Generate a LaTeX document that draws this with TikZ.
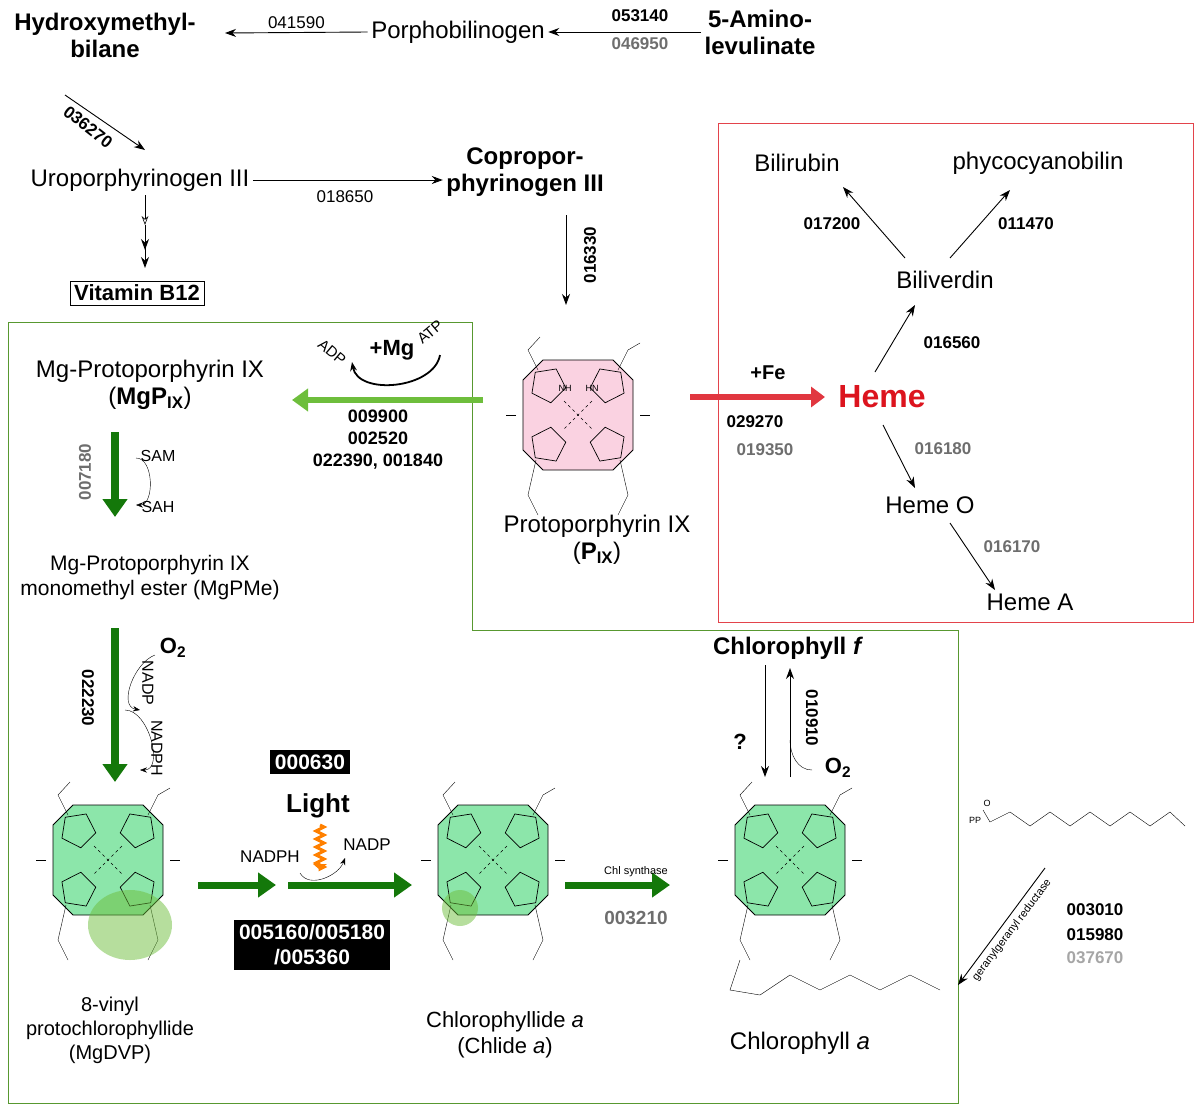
\documentclass[tikz,border=0pt]{standalone}
\usepackage{fontspec}
\setmainfont{Liberation Sans}
\usetikzlibrary{arrows.meta,shapes.geometric,decorations.pathmorphing}
\definecolor{dg}{RGB}{20,120,10}
\definecolor{lg}{RGB}{110,190,60}
\definecolor{mol}{RGB}{140,230,170}
\definecolor{pinkm}{RGB}{250,210,225}
\definecolor{hred}{RGB}{220,20,30}
\definecolor{gr}{RGB}{110,110,110}
\tikzset{
 big/.style={font=\fontsize{24}{27}\selectfont,align=center},
 bigb/.style={font=\fontsize{24}{27}\selectfont\bfseries,align=center},
 num/.style={font=\fontsize{17}{21}\selectfont\bfseries,align=center},
 gnum/.style={num,text=gr},
 arr/.style={-{Stealth[length=11pt,width=8pt]},line width=0.9pt},
 garr/.style={-{Triangle[length=18pt,width=24pt]},line width=8pt,draw=dg},
 blk/.style={fill=black,text=white,font=\fontsize{21}{25}\selectfont\bfseries,align=center,inner sep=5pt},
 pent/.style={regular polygon,regular polygon sides=5,minimum size=36pt,draw,inner sep=0pt,line width=0.7pt},
}
\newcommand{\porph}[3]{%
 \begin{scope}[shift={#1}]
  \draw[line width=0.8pt,fill=#2] (-55,-35)--(-35,-55)--(35,-55)--(55,-35)--(55,35)--(35,55)--(-35,55)--(-55,35)--cycle;
  \node[pent,fill=#2,rotate=45] (#3a) at (-30,-30) {};
  \node[pent,fill=#2,rotate=-45] (#3b) at (30,-30) {};
  \node[pent,fill=#2,rotate=-135] (#3c) at (30,30) {};
  \node[pent,fill=#2,rotate=135] (#3d) at (-30,30) {};
  \draw[dashed] (-14,-14)--(14,14) (14,-14)--(-14,14);
  \draw (-40,-45)--(-50,-65)--(-38,-78) (40,-45)--(50,-65)--(62,-72);
  \draw (-62,0)--(-72,0) (62,0)--(72,0);
  \draw (-42,45)--(-50,80)--(-40,100) (42,45)--(50,80)--(40,100);
 \end{scope}}
\begin{document}
\begin{tikzpicture}[x=1pt,y=-1pt]
\useasboundingbox (0,0) rectangle (1200,1106);
% boxes
\draw[lg!80!black,line width=0.8pt] (8,322)--(472,322)--(472,630)--(958,630)--(958,1103)--(8,1103)--cycle;
\draw[hred!80,line width=0.8pt] (718,123) rectangle (1193,622);
% top
\node[bigb] (hmb) at (105,35) {Hydroxymethyl-\\bilane};
\node[big] (pbg) at (458,32) {Porphobilinogen};
\node[bigb] (ala) at (760,32) {5-Amino-\\levulinate};
\draw[arr] (pbg.west)--(225,33) node[midway,above,font=\fontsize{17}{21}\selectfont] {041590};
\draw[arr] (ala.west)--(pbg.east);
\node[num] at (640,16) {053140};
\node[gnum] at (640,44) {046950};
\draw[arr] (65,95)--(145,150);
\node[num,rotate=-38] at (88,127) {036270};
\node[big] (uro) at (140,180) {Uroporphyrinogen III};
\node[bigb] (copro) at (525,172) {Copropor-\\phyrinogen III};
\draw[arr] (uro.east)--(copro.west|-uro.east);
\node[font=\fontsize{17}{21}\selectfont] at (345,197) {018650};
\draw[arr] (566,215)--(566,305);
\node[num,rotate=90] at (590,255) {016330};
\draw[-{Stealth[open,length=9pt]},line width=0.6pt] (145,195)--(145,225);
\draw[arr] (145,225)--(145,268);
\draw[arr] (145,235)--(145,250);
\node[draw,font=\fontsize{22}{25}\selectfont\bfseries,inner sep=4pt] (b12) at (137,293) {Vitamin B12};
% proto
\porph{(578,415)}{pinkm}{pp}
\node[font=\fontsize{9}{10}\selectfont] at (565,388) {NH};
\node[font=\fontsize{9}{10}\selectfont] at (592,388) {HN};
\node[big] (proto) at (597,540) {Protoporphyrin IX\\(\textbf{P\textsubscript{IX}})};
\draw[-{Triangle[length=16pt,width=22pt]},line width=6pt,draw=lg] (483,400)--(292,400);
\node[num,font=\fontsize{18}{22}\selectfont\bfseries] at (378,440) {009900\\002520\\022390, 001840};
\draw[-{Stealth[length=9pt]},line width=1.8pt] (440,355) to[out=-100,in=-80] (352,362);
\node[font=\fontsize{22}{25}\selectfont\bfseries] at (392,350) {+Mg};
\node[font=\fontsize{15}{18}\selectfont,rotate=-40] at (332,352) {ADP};
\node[font=\fontsize{15}{18}\selectfont,rotate=40] at (430,332) {ATP};
\node[big] (mgp) at (150,385) {Mg-Protoporphyrin IX\\(\textbf{MgP\textsubscript{IX}})};
\draw[garr] (115,432)--(115,517);
\node[gnum,rotate=90] at (85,472) {007180};
\draw[-{Stealth[length=7pt]}] (136,458) to[out=0,in=0] (136,505);
\node[font=\fontsize{16}{19}\selectfont] at (158,456) {SAM};
\node[font=\fontsize{16}{19}\selectfont] at (158,507) {SAH};
\node[big,font=\fontsize{21}{25}\selectfont] (mgpme) at (150,578) {Mg-Protoporphyrin IX\\monomethyl ester (MgPMe)};
\draw[garr] (115,628)--(115,782);
\node[num,rotate=-90] at (88,698) {022230};
\node[font=\fontsize{22}{25}\selectfont\bfseries] at (173,648) {O\textsubscript{2}};
\draw[-{Stealth[length=7pt]}] (155,655) to[out=200,in=170] (140,710);
\draw[-{Stealth[length=7pt]}] (125,710) to[out=0,in=0] (140,770);
\node[font=\fontsize{16}{19}\selectfont,rotate=-90] at (148,683) {NADP};
\node[font=\fontsize{16}{19}\selectfont,rotate=-90] at (157,748) {NADPH};
% MgDVP
\porph{(108,860)}{mol}{m1}
\fill[lg,opacity=0.5] (130,925) ellipse (42 and 35);
\node[font=\fontsize{20}{24}\selectfont,align=center] at (110,1030) {8-vinyl\\protochlorophyllide\\(MgDVP)};
\draw[garr,line width=7pt] (198,885)--(276,885);
\draw[garr,line width=7pt] (288,885)--(412,885);
\node[font=\fontsize{17}{20}\selectfont] at (270,857) {NADPH};
\node[font=\fontsize{17}{20}\selectfont] at (367,845) {NADP};
\draw[-{Stealth[length=7pt]}] (300,873) to[out=-60,in=-110] (345,858);
\node[blk] (b1) at (310,762) {000630};
\node[font=\fontsize{26}{30}\selectfont\bfseries] at (318,806) {Light};
\draw[orange,line width=3pt,decorate,decoration={zigzag,amplitude=4pt,segment length=8pt},-{Triangle[length=6pt]}] (320,825)--(320,870);
\node[blk] (b2) at (312,945) {005160/005180\\/005360};
% chlide
\porph{(493,860)}{mol}{m2}
\fill[lg,opacity=0.5] (460,908) circle (18);
\node[font=\fontsize{22}{26}\selectfont,align=center] at (505,1035) {Chlorophyllide \textit{a}\\(Chlide \textit{a})};
\draw[garr,line width=7pt] (565,885)--(670,885);
\node[font=\fontsize{11}{13}\selectfont] at (636,872) {Chl synthase};
\node[gnum,font=\fontsize{19}{22}\selectfont\bfseries] at (636,918) {003210};
% chl a
\porph{(790,860)}{mol}{m3}
\draw (740,960)--(730,990)--(760,995)--(790,975)--(820,990)--(850,975)--(880,990)--(910,975)--(940,990);
\node[font=\fontsize{24}{28}\selectfont] at (800,1043) {Chlorophyll \textit{a}};
\node[font=\fontsize{24}{28}\selectfont\bfseries] (chlf) at (788,648) {Chlorophyll \textit{f}};
\draw[arr] (765,665)--(765,777);
\draw[arr] (790,777)--(790,668);
\node[font=\fontsize{22}{25}\selectfont\bfseries] at (740,742) {?};
\node[num,rotate=-90] at (812,718) {010910};
\draw (790,740) to[out=-90,in=180] (812,770);
\node[font=\fontsize{22}{25}\selectfont\bfseries] at (838,768) {O\textsubscript{2}};
% phytol
\node[font=\fontsize{9}{10}\selectfont] at (975,820) {PP};
\node[font=\fontsize{9}{10}\selectfont] at (987,803) {O};
\draw (983,810)--(990,822)--(1010,812)--(1030,826)--(1050,812)--(1070,826)--(1090,812)--(1110,826)--(1130,812)--(1150,826)--(1170,812)--(1185,826);
\draw[arr] (1045,868)--(958,985);
\node[font=\fontsize{11}{13}\selectfont,rotate=53] at (1012,930) {geranylgeranyl reductase};
\node[num] at (1095,910) {003010};
\node[num] at (1095,935) {015980};
\node[num,text=gray!70] at (1095,958) {037670};
% heme
\draw[-{Triangle[length=14pt,width=20pt]},line width=6pt,draw=hred!85] (690,397)--(825,397);
\node[font=\fontsize{20}{24}\selectfont\bfseries] at (768,373) {+Fe};
\node[num] at (755,422) {029270};
\node[gnum] at (765,450) {019350};
\node[font=\fontsize{32}{36}\selectfont\bfseries,text=hred] (heme) at (882,397) {Heme};
\node[big] (bv) at (945,280) {Biliverdin};
\node[big] (br) at (797,163) {Bilirubin};
\node[big] (pcb) at (1038,163) {phycocyanobilin};
\node[big] (hO) at (930,505) {Heme O};
\node[big] (hA) at (1030,602) {Heme A};
\draw[arr] (875,372)--(915,305);
\node[num] at (952,343) {016560};
\draw[arr] (905,258)--(843,187);
\node[num] at (832,224) {017200};
\draw[arr] (950,258)--(1010,190);
\node[num] at (1026,224) {011470};
\draw[arr] (883,425)--(915,488);
\node[gnum] at (943,449) {016180};
\draw[arr] (950,523)--(995,590);
\node[gnum] at (1012,547) {016170};
\end{tikzpicture}
\end{document}
